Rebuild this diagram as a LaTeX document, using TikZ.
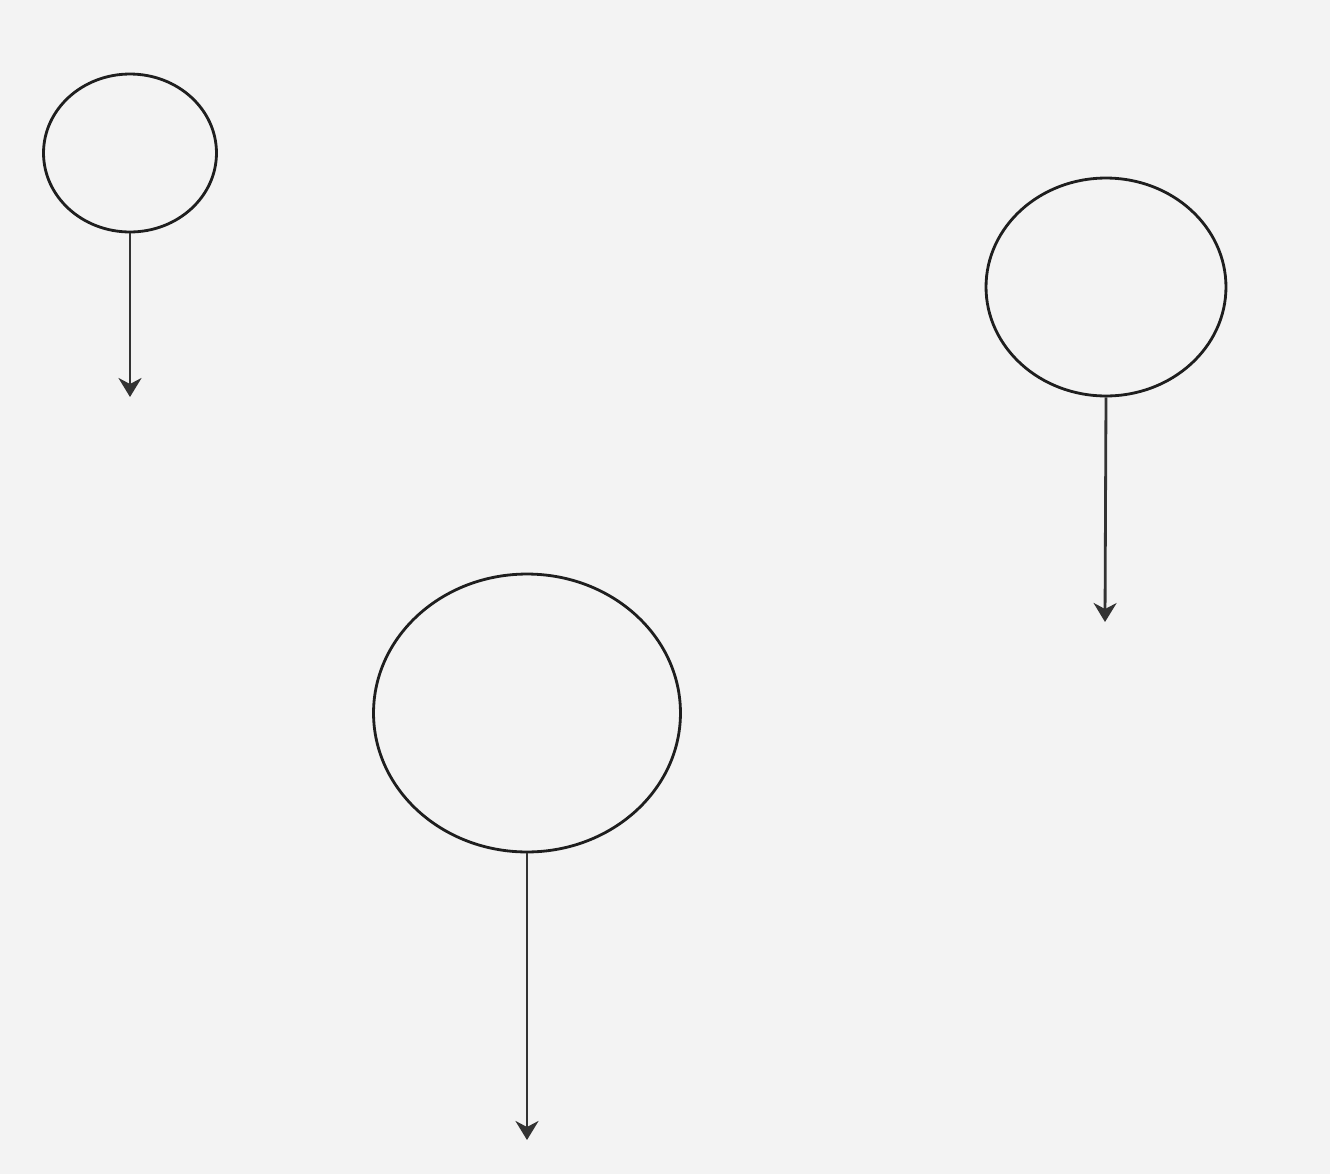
\documentclass[tikz,border=0pt]{standalone}
\usepackage{tikz}
\usetikzlibrary{shapes.geometric,arrows.meta}
\definecolor{bg}{HTML}{F3F3F3}
\definecolor{ink}{HTML}{1E1E1E}
\definecolor{arrowink}{HTML}{333333}

\begin{document}
\begin{tikzpicture}[x=0.02cm,y=-0.02cm,
    blob/.style={ellipse,draw=ink,line width=1.6pt,inner sep=0pt},
    drop/.style={-{Stealth[length=0.38cm,width=0.46cm,inset=0.12cm]},draw=arrowink,line width=1.6pt}]
      \fill[bg] (0,0) rectangle (1330,1174);
      \useasboundingbox (0,0) rectangle (1330,1174);

      \node [blob,minimum width=3.46cm,minimum height=3.16cm] (1) at (130,153) {};
      \node [blob,minimum width=4.8cm,minimum height=4.36cm] (2) at (1106,287) {};
      \node [blob,minimum width=6.14cm,minimum height=5.56cm] (3) at (527,713) {};

      \coordinate (1end) at (130,397);
      \coordinate (2end) at (1105,622);
      \coordinate (3end) at (527,1140);

      \draw[drop] (1.south) -- (1end);
      \draw[drop] (2.south) -- (2end);
      \draw[drop] (3.south) -- (3end);
    \end{tikzpicture}
\end{document}
